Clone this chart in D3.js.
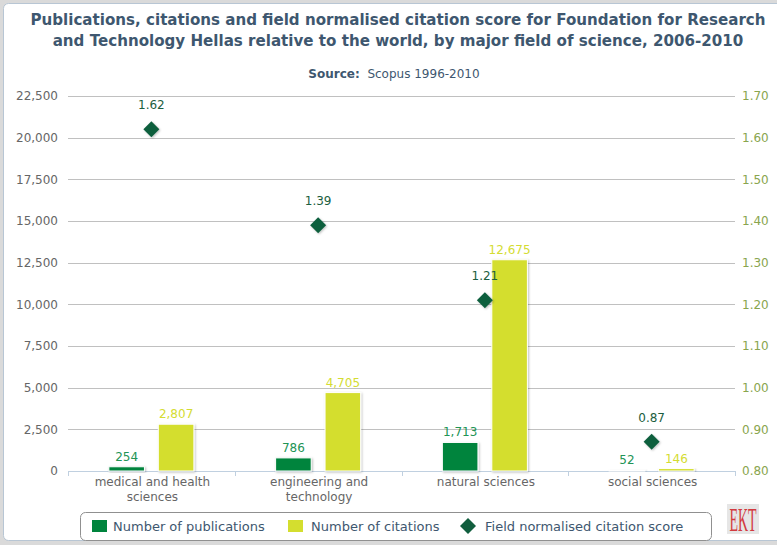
<!DOCTYPE html>
<html>
<head>
<meta charset="utf-8">
<script src="https://cdn.jsdelivr.net/npm/d3@7"></script>
<style>
  body { margin: 0; background: #dadada; }
  svg { display: block; font-family: "DejaVu Sans", Verdana, sans-serif; }
</style>
</head>
<body>
<svg id="chart" width="777" height="545"></svg>
<script>
const titleLines = [
  "Publications, citations and field normalised citation score for Foundation for Research",
  "and Technology Hellas relative to the world, by major field of science, 2006-2010"
];
const categories = [["medical and health", "sciences"], ["engineering and", "technology"], ["natural sciences"], ["social sciences"]];
const publications = [254, 786, 1713, 52];
const citations = [2807, 4705, 12675, 146];
const scores = [1.62, 1.39, 1.21, 0.87];
const leftTicks = [0, 2500, 5000, 7500, 10000, 12500, 15000, 17500, 20000, 22500];
const rightTicks = [0.80, 0.90, 1.00, 1.10, 1.20, 1.30, 1.40, 1.50, 1.60, 1.70];
const seriesNames = ["Number of publications", "Number of citations", "Field normalised citation score"];
const colors = { pub: "#00843d", cit: "#d4de2f", score: "#115e3e", pubLabel: "#229455", citLabel: "#d4dc32", scoreLabel: "#1b5e40" };

const svg = d3.select("#chart");
const plot = { left: 68, right: 735, top: 96, bottom: 471 };

// defs
const defs = svg.append("defs");
const f = defs.append("filter").attr("id", "shadow").attr("x", "-20%").attr("y", "-20%").attr("width", "150%").attr("height", "150%");
f.append("feDropShadow").attr("dx", 1).attr("dy", 1).attr("stdDeviation", 1).attr("flood-color", "#000").attr("flood-opacity", 0.25);

// panel
svg.append("rect").attr("x", 3.5).attr("y", 3.5).attr("width", 800).attr("height", 537)
  .attr("rx", 5).attr("fill", "#fff").attr("stroke", "#b8c6d4");

// title
const title = svg.append("text").attr("text-anchor", "middle").attr("fill", "#3e576f")
  .attr("font-weight", "bold").attr("font-size", "15.1px");
titleLines.forEach((t, i) => title.append("tspan").attr("x", 398).attr("y", 25 + i * 21).text(t));

const sub = svg.append("text").attr("x", 394).attr("y", 78).attr("text-anchor", "middle")
  .attr("fill", "#3e576f").attr("font-size", "12px");
sub.append("tspan").attr("font-weight", "bold").text("Source:");
sub.append("tspan").text("\u00a0 Scopus 1996-2010");

// scales
const y = d3.scaleLinear().domain([0, 22500]).range([plot.bottom, plot.top]);
const y2 = d3.scaleLinear().domain([0.80, 1.70]).range([plot.bottom, plot.top]);
const x0 = d3.scaleBand().domain(d3.range(categories.length)).range([plot.left, plot.right]).padding(0);
const bw = x0.bandwidth();
const x1 = d3.scaleBand().domain(["pub", "cit"]).range([bw * 0.245, bw * 0.755]).paddingInner(0.28).paddingOuter(0);

// grid lines
svg.append("g").selectAll("line").data(leftTicks.filter(d => d > 0)).join("line")
  .attr("x1", plot.left).attr("x2", plot.right)
  .attr("y1", d => Math.round(y(d)) + 0.5).attr("y2", d => Math.round(y(d)) + 0.5)
  .attr("stroke", "#c0c0c0");

// left axis
const fmt = d3.format(",");
const leftAxis = d3.axisLeft(y).tickValues(leftTicks).tickFormat(fmt).tickSize(0).tickPadding(10);
const gl = svg.append("g").attr("transform", `translate(${plot.left},0)`).call(leftAxis);
gl.select(".domain").remove();
gl.selectAll("text").attr("fill", "#666").attr("font-size", "12px").attr("font-family", "DejaVu Sans");

// right axis
const rightAxis = d3.axisRight(y2).tickValues(rightTicks).tickFormat(d3.format(".2f")).tickSize(0).tickPadding(7);
const gr = svg.append("g").attr("transform", `translate(${plot.right},0)`).call(rightAxis);
gr.select(".domain").remove();
gr.selectAll("text").attr("fill", "#89a54e").attr("font-size", "12px").attr("font-family", "DejaVu Sans");

// x axis
const gx = svg.append("g");
gx.append("line").attr("x1", plot.left).attr("x2", plot.right + 1).attr("y1", plot.bottom + 0.5).attr("y2", plot.bottom + 0.5)
  .attr("stroke", "#c0d0e0");
const boundaries = d3.range(categories.length + 1).map(i => i < categories.length ? x0(i) : plot.right);
gx.selectAll("line.tick").data(boundaries).join("line").attr("class", "tick")
  .attr("x1", d => Math.round(d) + 0.5).attr("x2", d => Math.round(d) + 0.5)
  .attr("y1", plot.bottom).attr("y2", plot.bottom + 5).attr("stroke", "#c0d0e0");
gx.selectAll("text.cat").data(categories).join("text").attr("class", "cat")
  .attr("text-anchor", "middle").attr("fill", "#666").attr("font-size", "12px")
  .each(function (lines, i) {
    const t = d3.select(this);
    lines.forEach((l, j) => t.append("tspan").attr("x", x0(i) + bw / 2 + 1).attr("y", 486 + j * 15).text(l));
  });

// bars
const barData = [];
categories.forEach((c, i) => {
  barData.push({ i, key: "pub", v: publications[i] });
  barData.push({ i, key: "cit", v: citations[i] });
});
const gb = svg.append("g");
gb.selectAll("rect").data(barData).join("rect")
  .attr("x", d => x0(d.i) + x1(d.key))
  .attr("width", x1.bandwidth())
  .attr("y", d => y(d.v))
  .attr("height", d => plot.bottom - y(d.v))
  .attr("fill", d => d.key === "pub" ? colors.pub : colors.cit)
  .attr("stroke", "#fff").attr("stroke-width", 1)
  .attr("filter", "url(#shadow)");
gb.selectAll("text").data(barData).join("text")
  .attr("x", d => x0(d.i) + x1(d.key) + x1.bandwidth() / 2)
  .attr("y", d => y(d.v) - 6)
  .attr("text-anchor", "middle").attr("font-size", "12px")
  .attr("fill", d => d.key === "pub" ? colors.pubLabel : colors.citLabel)
  .text(d => fmt(d.v));

// diamonds
const diamond = s => `M0,${-s}L${s},0L0,${s}L${-s},0Z`;
const gs = svg.append("g");
gs.selectAll("path").data(scores).join("path")
  .attr("transform", (d, i) => `translate(${x0(i) + bw / 2},${y2(d)})`)
  .attr("d", diamond(8)).attr("fill", colors.score).attr("filter", "url(#shadow)");
gs.selectAll("text").data(scores).join("text")
  .attr("x", (d, i) => x0(i) + bw / 2)
  .attr("y", d => y2(d) - 20)
  .attr("text-anchor", "middle").attr("font-size", "12px").attr("fill", colors.scoreLabel)
  .text(d => d.toFixed(2));

// legend
const lg = svg.append("g");
lg.append("rect").attr("x", 80.5).attr("y", 512.5).attr("width", 631).attr("height", 28).attr("rx", 5)
  .attr("fill", "#fff").attr("stroke", "#909090");
const legendItems = [
  { name: seriesNames[0], type: "rect", color: colors.pub, sx: 92, tx: 113 },
  { name: seriesNames[1], type: "rect", color: colors.cit, sx: 288, tx: 311 },
  { name: seriesNames[2], type: "diamond", color: colors.score, sx: 468, tx: 485 }
];
legendItems.forEach(it => {
  if (it.type === "rect") {
    lg.append("rect").attr("x", it.sx).attr("y", 520).attr("width", 15).attr("height", 12).attr("fill", it.color);
  } else {
    lg.append("path").attr("transform", `translate(${it.sx},526)`).attr("d", diamond(8)).attr("fill", it.color);
  }
  lg.append("text").attr("x", it.tx).attr("y", 531).attr("font-size", "13px").attr("fill", "#3e576f").text(it.name);
});

// logo
svg.append("rect").attr("x", 727).attr("y", 504).attr("width", 32).attr("height", 30).attr("fill", "#e6e6e6");
svg.append("text").attr("transform", "translate(743,531) scale(0.82,2.0)")
  .attr("text-anchor", "middle").attr("font-family", "Liberation Serif").attr("font-size", "17px")
  .attr("fill", "#d23a3f").text("EKT");
</script>
</body>
</html>
